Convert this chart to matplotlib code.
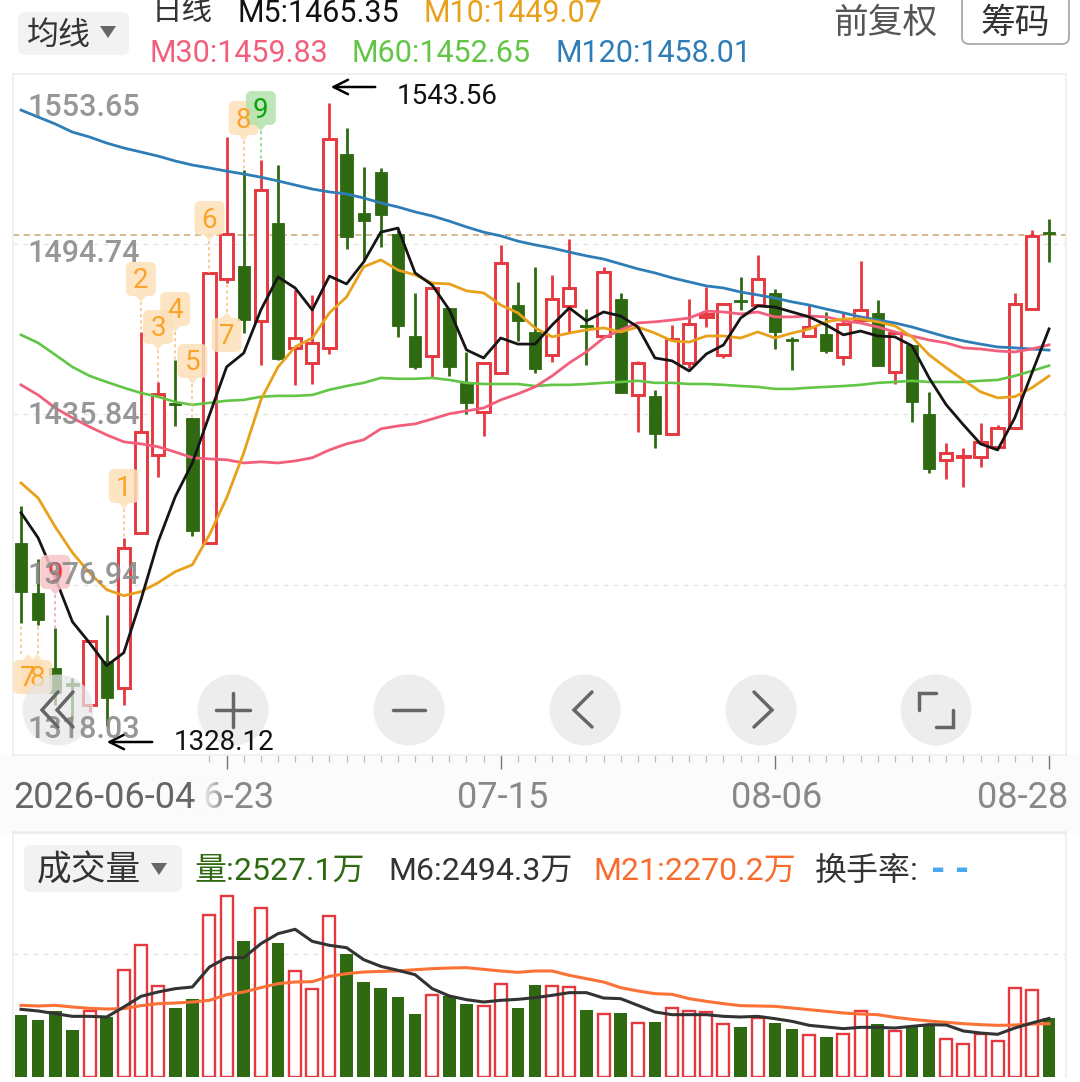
import matplotlib
matplotlib.use("Agg")
import matplotlib.pyplot as plt
import numpy as np
from matplotlib.patches import Circle, FancyBboxPatch, Polygon, Rectangle

plt.rcParams['font.family'] = ['Roboto', 'Noto Sans CJK SC', 'DejaVu Sans']

# daily candles, values
opens = [1391.4,1374.1,1348.2,1342.3,1335.4,1350.6,1341.3,1394.8,1421.8,1439.4,1434.6,1391.4,1482.6,1487.1,1468.1,1502.0,
         1458.8,1453.6,1458.8,1525.8,1505.4,1519.6,1498.2,1462.9,1456.0,1472.6,1446.7,1436.7,1450.1,1473.6,1464.3,1456.4,
         1473.3,1466.7,1462.9,1475.7,1442.5,1442.2,1429.1,1453.6,1469.5,1456.4,1475.0,1473.6,1477.8,1461.5,1462.9,1463.6,
         1455.7,1468.4,1470.9,1450.5,1459.8,1436.0,1420.1,1421.1,1421.1,1424.6,1431.1,1472.2,1498.8]
highs = [1404.2,1385.9,1362.0,1344.8,1357.5,1366.5,1393.1,1464.3,1447.0,1454.6,1434.6,1484.7,1531.7,1520.3,1523.7,1522.0,
         1478.8,1477.1,1543.56,1534.8,1521.3,1521.0,1500.2,1477.8,1479.5,1472.6,1457.4,1453.6,1494.4,1481.6,1486.8,1484.0,
         1496.4,1472.2,1486.8,1477.8,1454.3,1444.3,1466.7,1475.7,1479.8,1474.3,1483.3,1490.9,1479.2,1462.6,1473.6,1471.2,
         1470.9,1488.8,1475.4,1463.9,1459.8,1443.6,1425.9,1424.2,1432.9,1432.2,1477.8,1499.5,1503.3]
lows = [1363.8,1363.1,1335.4,1330.2,1333.0,1328.12,1335.4,1394.8,1414.2,1431.8,1393.8,1391.4,1481.2,1463.9,1452.9,1454.6,
        1446.0,1446.3,1456.7,1493.0,1488.8,1493.7,1462.6,1451.5,1448.7,1449.1,1436.0,1428.4,1450.1,1461.2,1450.1,1453.9,
        1464.3,1452.9,1462.9,1443.2,1429.7,1424.2,1429.1,1451.9,1466.0,1455.3,1471.9,1473.6,1458.4,1451.2,1462.9,1457.0,
        1452.9,1468.4,1452.5,1446.3,1433.2,1415.6,1413.5,1410.7,1417.7,1424.6,1431.1,1472.2,1488.5]
closes = [1374.5,1364.8,1339.6,1342.0,1357.5,1337.8,1389.7,1429.7,1442.9,1439.1,1395.5,1484.7,1498.2,1468.4,1513.4,1455.0,
          1462.2,1460.5,1531.0,1497.1,1502.6,1504.7,1466.4,1452.2,1479.5,1452.2,1439.8,1453.6,1488.1,1468.1,1451.5,1475.7,
          1479.5,1466.0,1485.0,1443.2,1453.6,1429.1,1461.9,1467.1,1470.5,1474.0,1474.7,1482.6,1464.3,1461.2,1466.0,1457.7,
          1467.1,1471.9,1452.5,1463.9,1440.1,1417.0,1422.5,1421.5,1426.3,1431.1,1474.0,1497.5,1498.2]

m5 = [1401.8,1393.1,1379.3,1364.1,1356.8,1348.9,1353.4,1371.7,1391.7,1407.3,1419.0,1435.6,1452.2,1457.0,1471.9,1483.3,
      1479.5,1471.9,1483.6,1480.9,1488.5,1498.8,1500.2,1484.7,1480.5,1471.9,1458.1,1455.3,1462.2,1460.1,1460.1,1466.7,
      1472.6,1468.1,1471.2,1469.8,1466.0,1455.3,1454.3,1450.8,1456.7,1459.8,1469.1,1473.3,1472.9,1471.2,1469.5,1466.7,
      1463.3,1464.6,1462.9,1462.6,1459.5,1448.4,1439.1,1432.2,1425.6,1423.5,1434.6,1450.1,1465.35]
m10 = [1412.1,1406.9,1396.9,1388.0,1381.0,1375.2,1373.1,1374.5,1377.6,1381.4,1383.8,1394.2,1406.9,1422.5,1440.8,1452.2,
       1459.1,1462.2,1470.9,1476.4,1486.8,1489.2,1485.7,1484.0,1481.2,1480.9,1478.5,1477.8,1473.6,1470.9,1465.7,1462.6,
       1463.9,1465.0,1465.7,1464.3,1466.0,1463.9,1461.2,1460.8,1462.9,1462.9,1462.2,1464.3,1462.2,1463.9,1465.3,1467.8,
       1468.8,1468.8,1467.8,1466.4,1462.6,1456.4,1451.9,1447.7,1443.6,1441.5,1441.9,1445.0,1449.07]
m30 = [1446.0,1442.5,1438.0,1434.6,1431.5,1428.7,1426.3,1425.6,1424.6,1422.8,1420.8,1420.4,1420.1,1419.0,1419.4,1419.0,
       1419.7,1420.8,1423.5,1425.6,1427.0,1430.8,1431.8,1432.5,1434.2,1436.0,1437.0,1438.0,1440.8,1442.9,1445.3,1449.1,
       1453.6,1457.4,1462.2,1465.0,1467.4,1467.8,1468.4,1469.1,1471.5,1471.2,1470.5,1471.2,1469.5,1469.5,1469.8,1469.5,
       1468.1,1467.4,1466.0,1464.3,1462.9,1461.5,1460.5,1458.8,1458.4,1457.7,1457.4,1458.4,1459.83]
m60 = [1463.3,1460.5,1456.4,1452.2,1449.1,1447.0,1445.0,1443.2,1441.9,1440.1,1439.1,1439.8,1440.5,1440.8,1441.9,1442.2,
       1442.2,1442.5,1444.3,1445.6,1446.7,1448.4,1448.1,1448.1,1448.4,1447.7,1446.7,1446.3,1446.3,1446.3,1445.6,1446.0,
       1446.0,1446.3,1446.7,1447.0,1447.4,1446.7,1446.7,1446.3,1446.3,1446.0,1445.6,1445.3,1444.6,1444.6,1445.0,1445.3,
       1445.6,1446.0,1446.7,1447.0,1447.4,1447.0,1447.0,1447.0,1447.4,1447.7,1449.1,1450.8,1452.65]
m120 = [1541.0,1538.6,1536.2,1533.4,1531.7,1529.6,1527.9,1526.5,1525.1,1523.4,1522.0,1521.0,1519.9,1518.9,1517.8,1516.5,
        1515.1,1513.7,1512.7,1512.0,1510.6,1508.9,1507.5,1505.8,1504.4,1502.6,1500.6,1498.8,1497.5,1495.7,1494.4,1493.3,
        1491.9,1490.6,1489.5,1487.8,1486.1,1484.7,1483.0,1481.6,1480.2,1479.5,1478.1,1477.1,1476.0,1474.7,1473.6,1472.2,
        1470.9,1469.5,1468.4,1467.4,1466.0,1464.3,1462.6,1461.2,1460.1,1459.1,1458.8,1458.4,1458.01]

# volume in 万
volume = [2627,2414,2797,2002,2812,2556,4572,5637,3862,2954,3309,6901,7711,5794,7185,5694,
          4501,3763,6859,5254,4047,3791,3394,2698,3479,3436,3096,3025,3976,2954,3905,3862,
          3834,2840,2698,2726,2300,2329,2954,2812,2783,2258,2144,2528,2300,2031,1775,1704,
          1818,2797,2244,1960,2144,2201,1633,1420,1818,1519,3806,3720,2527.1]
vol_m6 = [2883,2812,2698,2584,2584,2556,2982,3436,3621,3763,3834,4686,5084,5084,5680,6106,
          6291,5779,5609,5510,4998,4714,4544,4359,3763,3451,3294,3195,3266,3309,3380,3479,
          3593,3593,3365,3337,3053,2769,2655,2655,2655,2584,2556,2584,2485,2371,2201,2130,
          2059,2116,2116,2087,2158,2229,2215,1960,1874,1818,2087,2300,2494.3]
vol_m21 = [3053,3025,3053,2982,2925,2897,2911,3039,3124,3152,3195,3266,3507,3621,3806,3976,
           4047,4061,4288,4402,4473,4501,4516,4572,4615,4643,4658,4587,4516,4459,4516,4516,
           4331,4189,4047,3806,3664,3550,3522,3337,3223,3124,3039,3025,3010,2939,2868,2797,
           2726,2684,2655,2542,2457,2386,2329,2272,2229,2201,2215,2258,2270.2]

price_ticks = [1494.74, 1435.84, 1376.94]
price_labels = ['1553.65', '1494.74', '1435.84', '1376.94', '1318.03']
last_price = 1497.9
vol_grid = 5240
date_idx = [12, 28, 44, 60]
date_labels = ['06-23', '07-15', '08-06', '08-28']

RED = '#e5383f'
GREEN = '#2f6a13'
BAND = '#fbfbfb'
x = np.arange(len(closes))
closes_a, opens_a = np.array(closes), np.array(opens)
up = closes_a >= opens_a
up[[3, 33, 42, 45]] = False

fig = plt.figure(figsize=(10.8, 10.82), dpi=100, facecolor='white')
W, H = 1080, 1082
xlim = (-0.467, 60.99)

# grey band behind the dates
fig.add_artist(Rectangle((0, 1-833/H), 1, 78/H, transform=fig.transFigure, fc=BAND, ec='none', zorder=-1))

ax = fig.add_axes([13/W, 1-755/H, 1053/W, 681.5/H])
ax.set_xlim(xlim)
ax.set_ylim(1318.03, 1553.65)
ax_v = fig.add_axes([13/W, 1-1077/H, 1053/W, 245/H])
ax_v.set_xlim(xlim)
ax_v.set_ylim(0, 10437)

for a in (ax, ax_v):
    for s in a.spines.values():
        s.set_color('#eeeeee')
        s.set_linewidth(1.2)
    a.set_yticks([])
ax_v.set_xticks([])
ax_v.spines['bottom'].set_visible(False)

ax.set_xticks(date_idx, labels=[])
ax.set_xticks(range(11, 61), minor=True)
ax.tick_params(axis='x', which='major', length=10, width=1, color='#777777')
ax.tick_params(axis='x', which='minor', length=5, width=0.9, color='#bbbbbb')

for p in price_ticks:
    ax.axhline(p, color='#e4e4e4', lw=0.9, ls=(0, (4, 4)), zorder=1)
ax.axhline(last_price, color='#c9a56c', lw=1.1, ls=(0, (4, 3)), zorder=1.5)
ax_v.axhline(vol_grid, color='#e4e4e4', lw=0.9, ls=(0, (4, 4)), zorder=1)

# candles
body = 0.72
cols = [RED if u else GREEN for u in up]
ax.vlines(x, lows, highs, colors=cols, lw=2.0, zorder=2)
tops = np.maximum(closes_a, opens_a)
bots = np.minimum(closes_a, opens_a)
ax.bar(x[up], (tops-bots)[up], body, bottom=bots[up], facecolor='white', edgecolor=RED, lw=2.1, zorder=3)
ax.bar(x[~up], np.maximum((tops-bots)[~up], 0.8), body, bottom=bots[~up], facecolor=GREEN, edgecolor=GREEN, lw=0.6, zorder=3)

ax.plot(x, m120, color='#2f7db6', lw=2.0, zorder=5)
ax.plot(x, m60, color='#62c545', lw=1.9, zorder=5)
ax.plot(x, m30, color='#f25f7c', lw=2.0, zorder=5)
ax.plot(x, m10, color='#e9a11c', lw=2.0, zorder=5)
ax.plot(x, m5, color='#151515', lw=2.0, zorder=5)

# volume
vol = np.array(volume)
ax_v.bar(x[~up], vol[~up], 0.74, color=GREEN, zorder=2)
ax_v.bar(x[up], vol[up], 0.70, facecolor='white', edgecolor=RED, lw=1.7, zorder=2)
ax_v.plot(x, vol_m21, color='#fb7136', lw=2.2, zorder=3)
ax_v.plot(x, vol_m6, color='#333333', lw=2.2, zorder=4)

# page furniture, in pixel coordinates on top of the charts
ui = fig.add_axes([0, 0, 1, 1], zorder=10)
ui.set_xlim(0, W)
ui.set_ylim(H, 0)
ui.axis('off')
ui.patch.set_alpha(0)

def xpx(i):
    return 13 + (i - xlim[0]) / (xlim[1] - xlim[0]) * 1053

def label(px, py, s, **kw):
    # va=center sits about 3 px high with these fonts
    kw.setdefault('va', 'center')
    return ui.text(px, py + 3, s, **kw)

def td_label(i, txt, cy, y_end, below=False, bg='#fde0b9', fg='#f9a32a', line='#f7bf80', dx=0):
    cx = xpx(i)
    tip = cy - 23 if below else cy + 23
    ui.plot([cx, cx], [tip, y_end], color=line, lw=1.1, ls=(0, (2, 2)), zorder=2)
    cx += dx
    ui.add_patch(FancyBboxPatch((cx-11, cy-13), 22, 26, boxstyle='round,pad=4,rounding_size=6',
                                fc=bg, ec='none', alpha=0.85, zorder=3))
    ui.add_patch(Polygon([[cx-5, cy + (-17 if below else 17)], [cx+5, cy + (-17 if below else 17)], [cx, tip]],
                         fc=bg, ec='none', alpha=0.85, zorder=3))
    label(cx, cy-1, txt, color=fg, fontsize=20, ha='center', zorder=4)

td_label(6, '1', 486, 538)
td_label(7, '2', 279, 332)
td_label(8, '3', 327, 382)
td_label(9, '4', 309, 360)
td_label(10, '5', 361, 418)
td_label(11, '6', 218, 273)
td_label(12, '7', 335, 283, below=True)
td_label(13, '8', 118, 170)
td_label(14, '9', 108, 160, bg='#b4e2ae', fg='#0aa30a', line='#7fcf78')
td_label(0, '7', 677, 623, below=True, dx=7)
td_label(1, '8', 677, 625, below=True, dx=-1)
td_label(2, '9', 572, 628, bg='#f9c5c8', fg='#e5383f', line='#f0a0a5')

# price labels
label_y = [104, 250, 412, 573, 726]
for t, y in zip(price_labels, label_y):
    label(27, y, t, color='#8c8c8c', alpha=0.9, fontsize=22, fontweight='medium', zorder=8)

# high / low arrows
ui.annotate('', xy=(328, 87), xytext=(378, 87), arrowprops=dict(arrowstyle='->', lw=1.8, color='black', mutation_scale=26), zorder=6)
label(397, 94, '1543.56', fontsize=20, color='#111111', zorder=6)
ui.annotate('', xy=(104, 742), xytext=(155, 742), arrowprops=dict(arrowstyle='->', lw=1.8, color='black', mutation_scale=26), zorder=6)
label(174, 739, '1328.12', fontsize=20, color='#111111', zorder=9)

# zoom buttons
for bx in [58, 233, 409, 585, 761, 936]:
    ui.add_patch(Circle((bx, 710), 35.5, fc='#e6e6e6', ec='none', alpha=0.72, zorder=7))
gl = dict(color='#666666', lw=2.5, zorder=8, solid_capstyle='round', solid_joinstyle='miter')
ui.plot([58, 42, 58], [692, 710, 727], **gl)
ui.plot([73, 57, 73], [692, 710, 727], **gl)
ui.plot([216, 250], [710, 710], **gl)
ui.plot([233, 233], [693, 727], **gl)
ui.plot([393, 425], [710, 710], **gl)
ui.plot([592, 574, 592], [692, 710, 727], **gl)
ui.plot([754, 772, 754], [692, 710, 727], **gl)
ui.plot([919, 919, 936], [710, 693, 693], **gl)
ui.plot([936, 953, 953], [727, 727, 710], **gl)

# dates
ui.plot([13, 1066], [833, 833], color='#ececec', lw=1.2, zorder=1)
for i, t in zip(date_idx[:3], date_labels[:3]):
    label(xpx(i)+2, 795, t, color='#888888', fontsize=26, ha='center', zorder=2)
label(1068, 795, date_labels[3], color='#888888', fontsize=26, ha='right', zorder=2)
fade = np.ones((1, 64, 4))
fade[0, :, :3] = matplotlib.colors.to_rgb(BAND)
fade[0, :, 3] = np.concatenate([np.ones(32), np.linspace(1, 0, 32)])
ui.imshow(fade, extent=(178, 224, 820, 772), aspect='auto', zorder=3)
ui.set_xlim(0, W)
ui.set_ylim(H, 0)
label(13, 795, '2026-06-04', color='#666666', fontsize=26, zorder=4)

# header
def box(x0, y0, w, h, fc='#f2f2f2', ec='none', lw=0):
    ui.add_patch(FancyBboxPatch((x0+6, y0+6), w-12, h-12, boxstyle='round,pad=6,rounding_size=7',
                                fc=fc, ec=ec, lw=lw, zorder=1))

def tri(cx, cy):
    ui.add_patch(Polygon([[cx-8, cy-5], [cx+8, cy-5], [cx, cy+7]], fc='#666666', ec='none', zorder=2))

box(18, 12, 111, 43)
label(27, 32, '均线', fontsize=23, color='#333333', zorder=2)
tri(108, 31)
label(152, 9, '日线', fontsize=22, color='#333333')
label(238, 10, 'M5:1465.35', fontsize=22, color='#111111')
label(423, 10, 'M10:1449.07', fontsize=22, color='#e9a11c')
label(150, 51, 'M30:1459.83', fontsize=22, color='#f25f7c')
label(352, 51, 'M60:1452.65', fontsize=22, color='#62c545')
label(555, 51, 'M120:1458.01', fontsize=22, color='#2f7db6')
label(833, 20, '前复权', fontsize=25, color='#555555')
box(962, -12, 107, 56, fc='white', ec='#aaaaaa', lw=1.3)
label(980, 20, '筹码', fontsize=25, color='#333333', zorder=2)

# volume header
box(24, 845, 158, 47)
label(37, 868, '成交量', fontsize=25, color='#333333', zorder=2)
tri(159, 868)
label(195, 868, '量:2527.1万', fontsize=23, color=GREEN)
label(388, 868, 'M6:2494.3万', fontsize=23, color='#333333')
label(593, 868, 'M21:2270.2万', fontsize=23, color='#f96c30')
label(815, 868, '换手率:', fontsize=23, color='#333333')
label(931, 868, '- -', fontsize=27, color='#4aa8ee', fontweight='bold')

fig.savefig('out.png', dpi=100, facecolor='white')
